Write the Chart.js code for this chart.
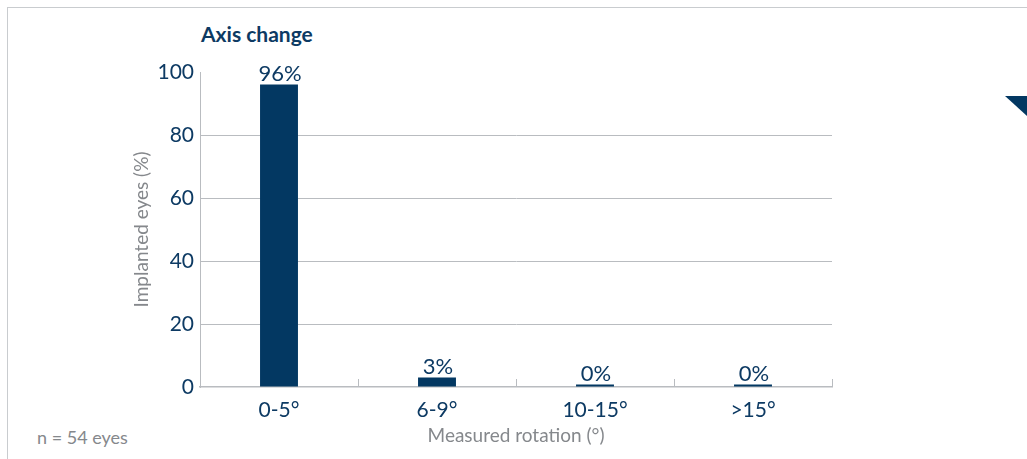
<!DOCTYPE html>
<html>
<head>
<meta charset="utf-8">
<script src="https://cdn.jsdelivr.net/npm/chart.js@4"></script>
<style>
    html, body { margin: 0; padding: 0; background: #fff; }
    #wrap { position: relative; width: 1027px; height: 459px; overflow: hidden; font-family: Lato, sans-serif; }
    #frame { position: absolute; left: 7px; top: 7px; right: -2px; bottom: -2px; border-top: 1.5px solid #c9cccf; border-left: 1.5px solid #c9cccf; }
    #title { position: absolute; left: 201px; top: 21px; font-size: 21px; font-weight: 700; color: #0d3a63; }
    #note { position: absolute; left: 37px; top: 426px; font-size: 18px; color: #85888c; }
    #corner { position: absolute; left: 1005px; top: 96px; width: 22px; height: 20px; background: #033862; clip-path: polygon(0 0, 100% 0, 100% 100%); }
    canvas { position: absolute; left: 0; top: 0; }
</style>
</head>
<body>
<div id="wrap">
    <div id="frame"></div>
    <div id="title">Axis change</div>
    <div id="note">n = 54 eyes</div>
    <div id="corner"></div>
    <canvas id="axisChart" width="1027" height="459"></canvas>
</div>
<script>
// Chart data
const categories = ['0-5°', '6-9°', '10-15°', '>15°'];
const eyesPercent = [96, 3, 0, 0];
const yTicks = [0, 20, 40, 60, 80, 100];

const navy = '#033862';
const textNavy = '#0d3a63';
const gray = '#85888c';

// Value labels above each bar
const valueLabels = {
    id: 'valueLabels',
    afterDatasetsDraw(chart) {
        const ctx = chart.ctx;
        const meta = chart.getDatasetMeta(0);
        ctx.save();
        ctx.font = '22px Lato';
        ctx.fillStyle = textNavy;
        ctx.textAlign = 'center';
        ctx.textBaseline = 'bottom';
        meta.data.forEach((bar, i) => {
            ctx.fillText(eyesPercent[i] + '%', bar.x + 1, bar.y);
        });
        ctx.restore();
    }
};

// Small upward tick marks on the x axis at category boundaries
const xBoundaryTicks = {
    id: 'xBoundaryTicks',
    beforeDatasetsDraw(chart) {
        const x = chart.scales.x;
        const ctx = chart.ctx;
        const bottom = chart.chartArea.bottom;
        ctx.save();
        ctx.strokeStyle = '#b9bcc0';
        ctx.lineWidth = 1;
        for (let i = 1; i <= categories.length; i++) {
            const px = Math.round(x.getPixelForValue(i - 0.5)) + 0.5;
            ctx.beginPath();
            ctx.moveTo(px, bottom);
            ctx.lineTo(px, bottom - 8);
            ctx.stroke();
        }
        ctx.restore();
    }
};

new Chart(document.getElementById('axisChart'), {
    type: 'bar',
    data: {
        labels: categories,
        datasets: [{
            data: eyesPercent,
            backgroundColor: navy,
            barPercentage: 0.24,
            categoryPercentage: 1,
            minBarLength: 2.5
        }]
    },
    options: {
        responsive: false,
        animation: false,
        layout: { padding: { left: 0, right: 195, top: 72, bottom: 0 } },
        plugins: {
            legend: { display: false },
            tooltip: { enabled: false }
        },
        scales: {
            x: {
                afterFit(scale) { scale.height = 72; },
                grid: { display: false },
                border: { color: '#b9bcc0', width: 1.5 },
                ticks: { color: textNavy, font: { family: 'Lato', size: 21 }, padding: 3 },
                title: {
                    display: true,
                    text: 'Measured rotation (°)',
                    color: gray,
                    font: { family: 'Lato', size: 19 },
                    padding: { top: 0, bottom: 11.5 }
                }
            },
            y: {
                min: 0,
                max: 100,
                afterFit(scale) { scale.width = 200; },
                afterBuildTicks(scale) { scale.ticks = yTicks.map(v => ({ value: v })); },
                grid: {
                    drawTicks: false,
                    color: ctx => (ctx.tick.value === 0 || ctx.tick.value === 100) ? 'rgba(0,0,0,0)' : '#b9bcc0',
                    lineWidth: 1
                },
                border: { color: '#b9bcc0', width: 1 },
                ticks: { color: textNavy, font: { family: 'Lato', size: 21 }, padding: 6 },
                title: {
                    display: true,
                    text: 'Implanted eyes (%)',
                    color: gray,
                    font: { family: 'Lato', size: 19 },
                    padding: { top: 130.5, bottom: 0 }
                }
            }
        }
    },
    plugins: [valueLabels, xBoundaryTicks]
});
</script>
</body>
</html>
